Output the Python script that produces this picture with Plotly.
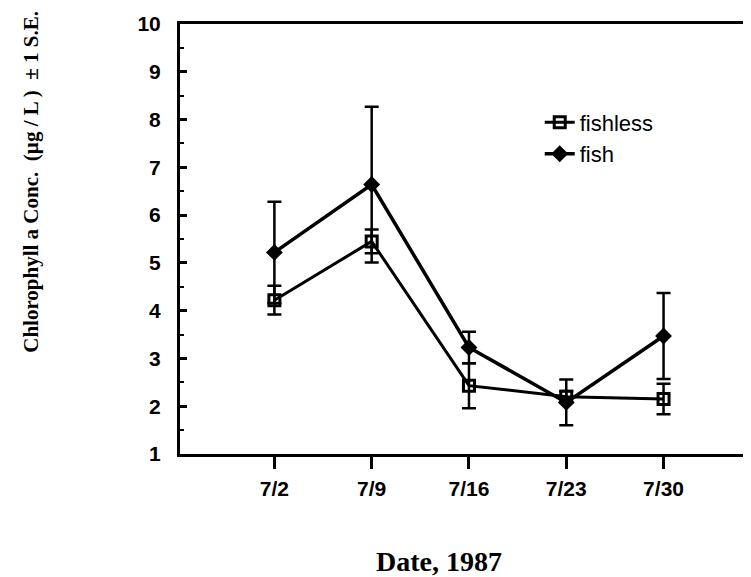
import plotly.graph_objects as go

# 数据
dates = ["1987-07-02", "1987-07-09", "1987-07-16", "1987-07-23", "1987-07-30"]
date_labels = ["7/2", "7/9", "7/16", "7/23", "7/30"]
y_ticks = [1, 2, 3, 4, 5, 6, 7, 8, 9, 10]

fishless = [4.22, 5.45, 2.43, 2.20, 2.15]
fishless_se = [0.30, 0.25, 0.47, 0.12, 0.32]

fish = [5.22, 6.64, 3.23, 2.08, 3.47]
fish_se = [1.06, 1.63, 0.33, 0.48, 0.90]

BLACK = "#000000"
SANS = "Liberation Sans, Arial, sans-serif"
SERIF = "Liberation Serif, Times New Roman, serif"

fig = go.Figure()

fig.add_trace(go.Scatter(
    x=dates, y=fishless, name="fishless", mode="lines+markers",
    line=dict(color=BLACK, width=3),
    marker=dict(symbol="square-open", size=11, color=BLACK, line=dict(width=3)),
    error_y=dict(type="data", array=fishless_se, color=BLACK, thickness=2.5, width=7),
))
fig.add_trace(go.Scatter(
    x=dates, y=fish, name="fish", mode="lines+markers",
    line=dict(color=BLACK, width=3.5),
    marker=dict(symbol="diamond", size=13, color=BLACK),
    error_y=dict(type="data", array=fish_se, color=BLACK, thickness=2.5, width=7),
))

# 页面 body 有 8px 默认边距,这里整体缩小 8px
fig.update_layout(
    width=743, height=569,
    plot_bgcolor="white", paper_bgcolor="white",
    margin=dict(l=172, r=0, t=16, b=123),
    font=dict(family=SANS, size=16, color=BLACK),
    legend=dict(x=0.63, y=0.82, xanchor="left", yanchor="top",
                bgcolor="rgba(0,0,0,0)", font=dict(size=22, family=SANS),
                itemwidth=30),
    showlegend=True,
    annotations=[
        dict(text="<b>Chlorophyll a Conc.  (µg / L )  ± 1 S.E.</b>", xref="paper", yref="paper",
             x=-0.261, y=0.633, textangle=-90, showarrow=False,
             font=dict(family=SERIF, size=21, color=BLACK), xanchor="center", yanchor="middle"),
        dict(text="<b>Date, 1987</b>", xref="paper", yref="paper",
             x=0.454, y=-0.249, showarrow=False,
             font=dict(family=SERIF, size=28, color=BLACK), xanchor="center", yanchor="middle"),
    ],
)

fig.update_xaxes(
    type="date",
    range=["1987-06-25 05:00", "1987-08-05 07:00"],
    tickmode="array", tickvals=dates, ticktext=[f"<b>{t}</b>" for t in date_labels],
    ticks="outside", ticklen=12, tickwidth=3, tickcolor=BLACK, ticklabelstandoff=2,
    showline=True, linewidth=3, linecolor=BLACK, mirror=True,
    showgrid=False, zeroline=False,
    tickfont=dict(family=SANS, size=21, color=BLACK),
)
fig.update_yaxes(
    range=[1, 10],
    tickmode="array", tickvals=y_ticks, ticktext=[f"<b>{t}</b>" for t in y_ticks],
    ticks="inside", ticklen=7, tickwidth=2.5, tickcolor=BLACK, ticklabelstandoff=12,
    minor=dict(ticks="inside", dtick=0.5, ticklen=4, tickwidth=2, tickcolor=BLACK),
    showline=True, linewidth=3, linecolor=BLACK, mirror=False,
    showgrid=False, zeroline=False,
    tickfont=dict(family=SANS, size=21, color=BLACK),
)

fig.write_html("out.html")
